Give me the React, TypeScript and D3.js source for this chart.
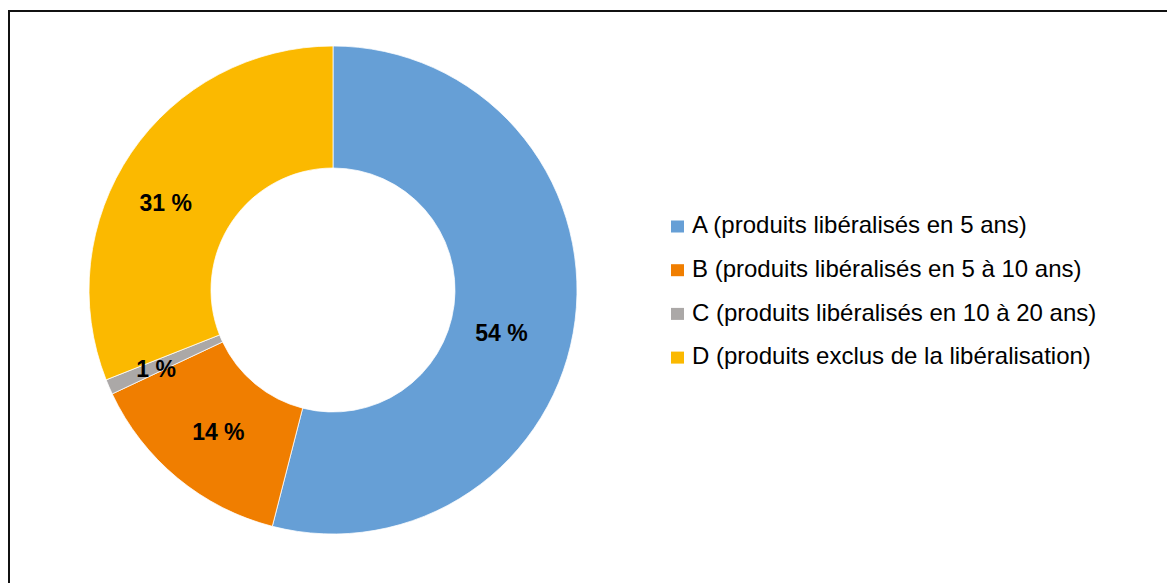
import React from "react";
import * as d3 from "d3";

const categories = [
  "A (produits libéralisés en 5 ans)",
  "B (produits libéralisés en 5 à 10 ans)",
  "C (produits libéralisés en 10 à 20 ans)",
  "D (produits exclus de la libéralisation)",
];
const values = [54, 14, 1, 31];
const labels = ["54 %", "14 %", "1 %", "31 %"];
const colors = ["#669FD6", "#F07E00", "#ABA8A7", "#FBB900"];
// label nudges relative to the slice centroid (styling)
const labelNudge: [number, number][] = [
  [-13, 20],
  [2, 1],
  [-9, 6],
  [-16, 16],
];

const W = 1167;
const H = 583;
const cx = 333;
const cy = 290;
const outerR = 244;
const innerR = 122;
const font = "'Liberation Sans', Arial, Helvetica, sans-serif";

export default function App() {
  const pie = d3
    .pie<number>()
    .sort(null)
    .startAngle(0)
    .endAngle(2 * Math.PI)
    .value((d) => d);
  const arcs = pie(values);
  const arcGen = d3.arc<d3.PieArcDatum<number>>().innerRadius(innerR).outerRadius(outerR);
  const legendX = 671;
  const legendY0 = 220;
  const legendStep = 43.7;

  return (
    <svg
      width={W}
      height={H}
      style={{ position: "absolute", left: 0, top: 0, background: "#fff" }}
    >
      <rect x={0} y={0} width={W} height={H} fill="#fff" />
      <rect x={9} y={11} width={1300} height={700} fill="none" stroke="#111" strokeWidth={2} />
      <g transform={`translate(${cx},${cy})`}>
        {arcs.map((a, i) => (
          <path key={i} d={arcGen(a) || ""} fill={colors[i]} stroke="#fff" strokeWidth={0.75} />
        ))}
        {arcs.map((a, i) => {
          const [x, y] = arcGen.centroid(a);
          return (
            <text
              key={"l" + i}
              x={x + labelNudge[i][0]}
              y={y + labelNudge[i][1]}
              textAnchor="middle"
              dominantBaseline="central"
              fontFamily={font}
              fontWeight="bold"
              fontSize={23}
              fill="#000"
            >
              {labels[i]}
            </text>
          );
        })}
      </g>
      {categories.map((c, i) => {
        const y = legendY0 + i * legendStep;
        return (
          <g key={"lg" + i}>
            <rect x={legendX} y={y + 0.5} width={13} height={12} fill={colors[i]} />
            <text
              x={legendX + 21}
              y={y + 13.3}
              fontFamily={font}
              fontSize={24}
              fill="#000"
            >
              {c}
            </text>
          </g>
        );
      })}
    </svg>
  );
}
